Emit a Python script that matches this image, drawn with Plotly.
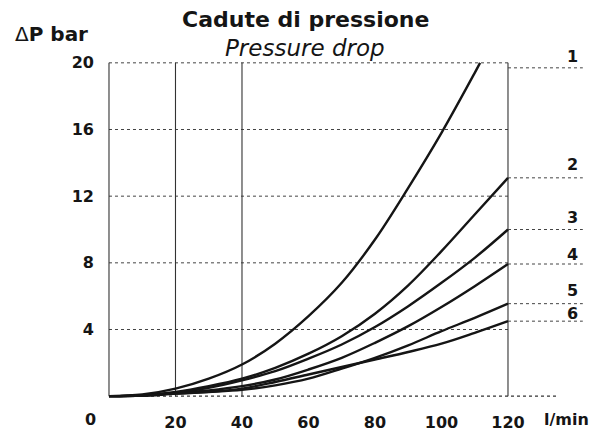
import plotly.graph_objects as go

# ---- data ----
flow = [0, 10, 20, 30, 40, 50, 60, 70, 80, 90, 100, 110, 120]
flow_c1 = [0, 10, 20, 30, 40, 50, 60, 70, 80, 90, 100, 110, 111.6]
curve1 = [0, 0.1, 0.45, 1.05, 1.9, 3.15, 4.8, 6.8, 9.4, 12.5, 15.8, 19.4, 20.0]
curve2 = [0, 0.05, 0.25, 0.6, 1.05, 1.7, 2.55, 3.6, 4.95, 6.65, 8.7, 10.9, 13.1]
curve3 = [0, 0.05, 0.2, 0.5, 0.95, 1.5, 2.25, 3.1, 4.15, 5.4, 6.8, 8.3, 10.0]
curve4 = [0, 0.04, 0.2, 0.35, 0.6, 1.0, 1.6, 2.3, 3.2, 4.2, 5.35, 6.6, 7.93]
curve5 = [0, 0.03, 0.15, 0.25, 0.38, 0.65, 1.05, 1.65, 2.3, 3.05, 3.9, 4.7, 5.55]
curve6 = [0, 0.03, 0.15, 0.26, 0.45, 0.85, 1.3, 1.75, 2.2, 2.65, 3.15, 3.8, 4.5]

curve_names = ["1", "2", "3", "4", "5", "6"]
label_levels = [19.7, 13.1, 10.0, 7.93, 5.55, 4.5]

x_ticks = [20, 40, 60, 80, 100, 120]
y_ticks = [4, 8, 12, 16, 20]
vertical_lines = [0, 20, 40, 120]
x_max_flow = 120
baseline_end = 135
label_line_end = 142.5
label_x = 139.3
unit_x = 137.5

title_it = "Cadute di pressione"
title_en = "Pressure drop"
x_unit = "l/min"

INK = "#151515"
FONT = "DejaVu Sans"

fig = go.Figure()

xs_all = [flow_c1, flow, flow, flow, flow, flow]
ys_all = [curve1, curve2, curve3, curve4, curve5, curve6]
for name, xs, ys in zip(curve_names, xs_all, ys_all):
    fig.add_trace(go.Scatter(
        x=xs, y=ys, mode="lines", name=name,
        line=dict(color=INK, width=2.4, shape="spline", smoothing=1.0),
        showlegend=False, hoverinfo="skip"))

shapes = []
for yv in y_ticks:
    shapes.append(dict(type="line", xref="x", yref="y", x0=0, x1=x_max_flow,
                       y0=yv, y1=yv, line=dict(color="#444", width=1, dash="dot"),
                       layer="below"))
shapes.append(dict(type="line", xref="x", yref="y", x0=0, x1=baseline_end,
                   y0=0, y1=0, line=dict(color="#333", width=1.3, dash="dot"),
                   layer="below"))
for xv in vertical_lines:
    shapes.append(dict(type="line", xref="x", yref="y", x0=xv, x1=xv,
                       y0=0, y1=y_ticks[-1], line=dict(color="#333", width=1.1),
                       layer="below"))
for lv in label_levels:
    shapes.append(dict(type="line", xref="x", yref="y", x0=x_max_flow, x1=label_line_end,
                       y0=lv, y1=lv, line=dict(color="#444", width=1, dash="dot"),
                       layer="below"))

label_yshift_px = [11, 13, 12, 10, 13, 8]
annotations = []
for name, lv, sh in zip(curve_names, label_levels, label_yshift_px):
    annotations.append(dict(x=label_x, y=lv, xref="x", yref="y", text=name,
                            showarrow=False, yshift=sh, xanchor="center", yanchor="middle",
                            font=dict(family=FONT, size=16, color=INK, weight="bold")))
annotations.append(dict(x=0, y=0, xref="x", yref="y", text="0", showarrow=False,
                        xshift=-18, yshift=-23, xanchor="center", yanchor="middle",
                        font=dict(family=FONT, size=16, color=INK, weight="bold")))
annotations.append(dict(x=unit_x, y=0, xref="x", yref="y", text=x_unit, showarrow=False,
                        yshift=-23, xanchor="center", yanchor="middle",
                        font=dict(family=FONT, size=16, color=INK, weight="bold")))
annotations.append(dict(x=0.406, y=1.118, xref="paper", yref="paper", text=title_it,
                        showarrow=False, xanchor="center", yanchor="middle",
                        font=dict(family=FONT, size=22, color=INK, weight="bold")))
annotations.append(dict(x=0.404, y=1.035, xref="paper", yref="paper", text=title_en,
                        showarrow=False, xanchor="center", yanchor="middle",
                        font=dict(family=FONT, size=23, color=INK, style="italic")))
annotations.append(dict(x=-0.192, y=1.077, xref="paper", yref="paper",
                        text="Δ<b>P bar</b>",
                        showarrow=False, xanchor="left", yanchor="middle",
                        font=dict(family=FONT, size=20, color=INK)))

fig.update_layout(
    width=599, height=432,
    margin=dict(l=107, r=2, t=60, b=33, pad=0, autoexpand=False),
    paper_bgcolor="white", plot_bgcolor="white",
    shapes=shapes, annotations=annotations,
    xaxis=dict(range=[-0.6, 146.77], showgrid=False, zeroline=False, showline=False,
               automargin=False,
               tickvals=x_ticks, ticktext=[str(v) for v in x_ticks], ticks="",
               ticklabelstandoff=12,
               tickfont=dict(family=FONT, size=16, color=INK, weight="bold")),
    yaxis=dict(range=[-0.17, 20.17], showgrid=False, zeroline=False, showline=False,
               automargin=False,
               tickvals=y_ticks, ticktext=[str(v) for v in y_ticks], ticks="",
               ticklabelstandoff=12,
               tickfont=dict(family=FONT, size=16, color=INK, weight="bold")),
)

fig.write_html("out.html",
               config={"displayModeBar": False},
               post_script="document.body.style.margin='0px';document.body.style.overflow='hidden';")
